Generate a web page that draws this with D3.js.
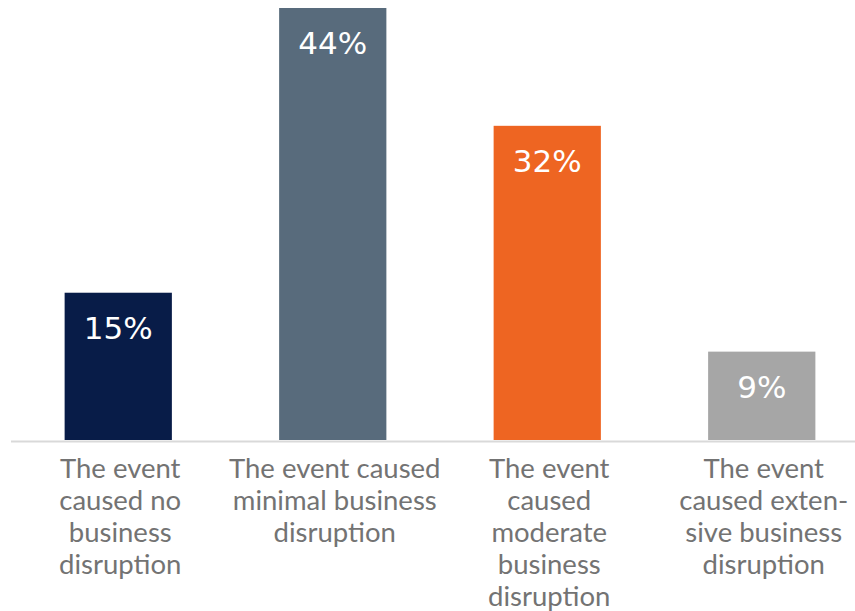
<!DOCTYPE html>
<html>
<head>
<meta charset="utf-8">
<script src="https://cdn.jsdelivr.net/npm/d3@7"></script>
<style>
  html, body { margin: 0; padding: 0; background: #ffffff; }
  svg { display: block; }
</style>
</head>
<body>
<svg id="chart" width="855" height="611"></svg>
<script>
// Share of respondents by level of business disruption
const categories = ["none", "minimal", "moderate", "extensive"];
const categoryLines = [
  ["The event", "caused no", "business", "disruption"],
  ["The event caused", "minimal business", "disruption"],
  ["The event", "caused", "moderate", "business", "disruption"],
  ["The event", "caused exten-", "sive business", "disruption"]
];
const values = [15, 44, 32, 9];
const valueLabels = ["15%", "44%", "32%", "9%"];
const colors = ["#081c48", "#586b7c", "#ee6522", "#a6a6a6"];

const svg = d3.select("#chart");
const baseline = 440;

const x = d3.scaleBand()
  .domain(categories)
  .range([11, 869])
  .paddingInner(0.5)
  .paddingOuter(0.25);

const y = d3.scaleLinear()
  .domain([0, 44])
  .range([baseline, 8]);

// bars
svg.append("g")
  .selectAll("rect")
  .data(values)
  .join("rect")
  .attr("x", (d, i) => x(categories[i]))
  .attr("y", d => y(d))
  .attr("width", x.bandwidth())
  .attr("height", d => y(0) - y(d))
  .attr("fill", (d, i) => colors[i]);

// baseline axis
svg.append("line")
  .attr("x1", 11).attr("x2", 855)
  .attr("y1", baseline + 1.5).attr("y2", baseline + 1.5)
  .attr("stroke", "#d9d9d9")
  .attr("stroke-width", 2);

// value labels inside bars
svg.append("g")
  .selectAll("text")
  .data(values)
  .join("text")
  .attr("x", (d, i) => x(categories[i]) + x.bandwidth() / 2)
  .attr("y", d => y(d) + 46)
  .attr("text-anchor", "middle")
  .attr("fill", "#ffffff")
  .style("font-family", "'DejaVu Sans', Verdana, sans-serif")
  .style("font-size", "31px")
  .text((d, i) => valueLabels[i]);

// category labels
const catG = svg.append("g")
  .style("font-family", "Lato, 'Source Sans Pro', sans-serif")
  .style("font-size", "27.5px")
  .attr("fill", "#737373");

categories.forEach((c, i) => {
  const cx = x(c) + x.bandwidth() / 2 + 2;
  const t = catG.append("text")
    .attr("x", cx)
    .attr("y", 478)
    .attr("text-anchor", "middle");
  categoryLines[i].forEach((line, j) => {
    t.append("tspan")
      .attr("x", cx)
      .attr("y", 478 + j * 32)
      .text(line);
  });
});
</script>
</body>
</html>
